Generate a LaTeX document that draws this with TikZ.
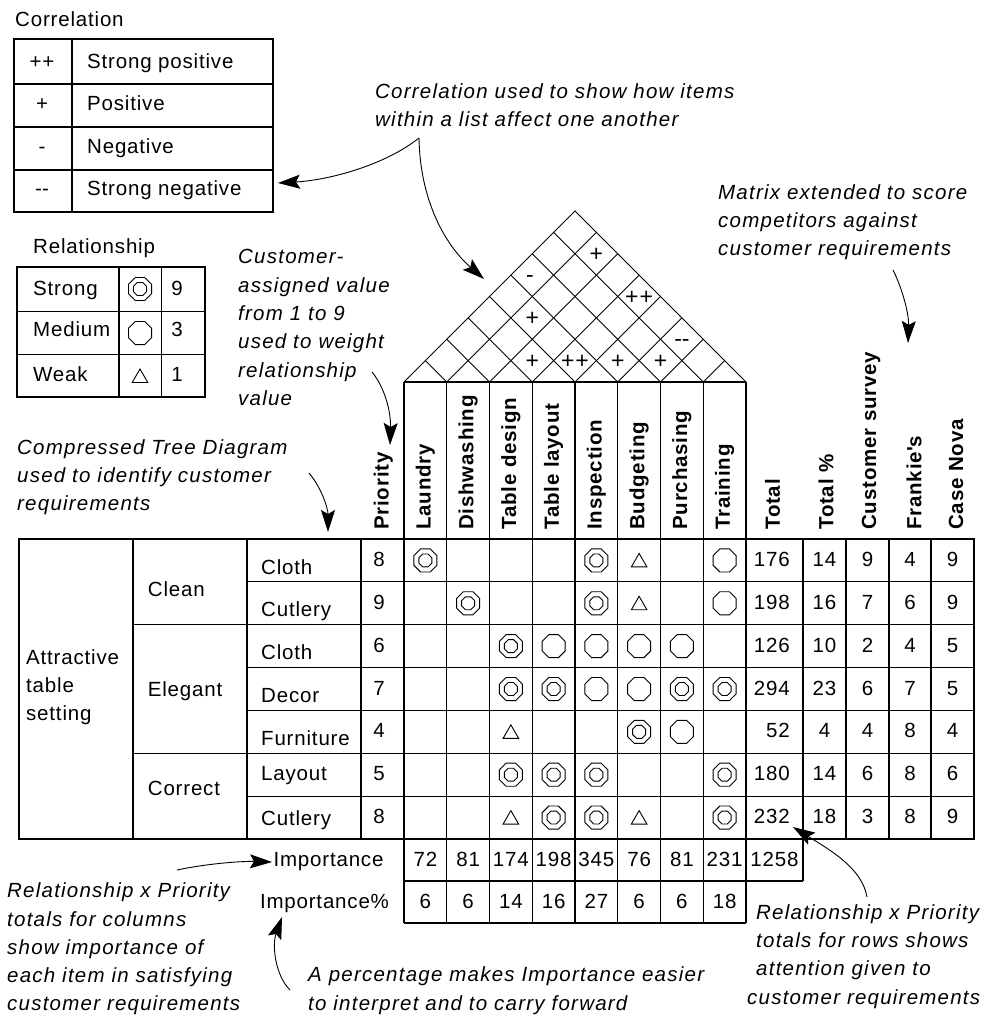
\documentclass[tikz,border=0pt]{standalone}
\usepackage{fontspec}
\setmainfont{Liberation Sans}[LetterSpace=4.0]
\usetikzlibrary{arrows.meta,shapes.geometric}

\newcommand{\qfdfont}{\fontsize{20.5}{28.3}\selectfont}
\newcommand{\notefont}{\fontsize{20.5}{28.3}\selectfont\itshape\addfontfeatures{LetterSpace=6.0}}
\newcommand{\dbldash}{\mbox{-}\mbox{-}}

\begin{document}
\begin{tikzpicture}[x=1pt,y=-1pt,
  lbl/.style={font=\qfdfont, inner sep=0pt, anchor=base west},
  num/.style={font=\qfdfont, inner sep=0pt, anchor=base},
  roofmark/.style={font=\fontsize{23}{28}\selectfont, inner sep=0pt, anchor=base},
  rnum/.style={font=\qfdfont, inner sep=0pt, anchor=base east},
  note/.style={font=\notefont, inner sep=0pt, align=left, anchor=north west},
  block/.style={font=\qfdfont, inner sep=0pt, align=left, anchor=north west},
  hdr/.style={font=\qfdfont\bfseries, inner sep=0pt, rotate=90, anchor=west},
  rule/.style={line width=1.2pt},
  roofline/.style={line width=0.9pt},
  callout/.style={line width=0.9pt, -{Stealth[length=22pt,width=14pt,inset=4pt]}},
  bigocto/.style={draw, regular polygon, regular polygon sides=8, inner sep=0pt, line width=0.9pt, minimum size=25pt},
  smallocto/.style={draw, regular polygon, regular polygon sides=8, inner sep=0pt, line width=0.9pt, minimum size=14pt},
  tri/.style={draw, regular polygon, regular polygon sides=3, inner sep=0pt, line width=0.9pt, minimum size=18pt, yshift=-2pt}
]
\fill[white] (0,0) rectangle (984,1019);
\useasboundingbox (0,0) rectangle (984,1019);

% ---------- correlation legend ----------
\node[lbl] (corrtitle) at (15,26.7) {Correlation};
\draw[rule] (14,39) rectangle (273,212);
\foreach \yy in {84,127,170} \draw[rule] (14,\yy) -- (273,\yy);
\draw[rule] (72,39) -- (72,212);
\foreach \s/\t/\b [count=\i] in {++/Strong positive/69, +/Positive/110.4, -/Negative/154, \dbldash/Strong negative/195.7} {
  \node[num] (cs\i) at (42,\b) {\s};
  \node[lbl] (ct\i) at (87,\b) {\t};
}

% ---------- relationship legend ----------
\node[lbl] (reltitle) at (33,253) {Relationship};
\draw[rule] (17,267) rectangle (205,397);
\draw[rule] (17,311.7) -- (205,311.7);
\draw[rule] (17,354.3) -- (205,354.3);
\draw[rule] (119,267) -- (119,397);
\draw[rule] (161.7,267) -- (161.7,397);
\node[lbl] (lstrong) at (33,295.3) {Strong};
\node[lbl] (lmedium) at (33,336.7) {Medium};
\node[lbl] (lweak) at (33,381.7) {Weak};
\node[bigocto] (kstrong) at (140,289) {};
\node[smallocto] (kstrongi) at (kstrong) {};
\node[bigocto] (kmedium) at (140,333) {};
\node[tri] (kweak) at (140,376) {};
\node[num] (v9) at (177,295.3) {9};
\node[num] (v3) at (177,336.7) {3};
\node[num] (v1) at (177,381.7) {1};

% ---------- roof (correlation matrix) ----------
\coordinate (rL) at (404,382);
\coordinate (rR) at (746,382);
\coordinate (rT) at (575,211);
\draw[roofline] (rL) -- (rT) -- (rR);
\foreach \k in {1,...,7} {
  \pgfmathsetmacro\xk{404+\k*42.75}
  \draw[roofline] (\xk,382) -- ({\xk+(746-\xk)/2},{382-(746-\xk)/2});
  \draw[roofline] (\xk,382) -- ({\xk-(\xk-404)/2},{382-(\xk-404)/2});
}
\draw[rule] (rL) -- (rR);
% correlation marks
\node[roofmark] (m1) at (532.25,368.6) {+};
\node[roofmark] (m2) at (575,368.6) {++};
\node[roofmark] (m3) at (617.75,368.6) {+};
\node[roofmark] (m4) at (660.5,368.6) {+};
\node[roofmark] (m5) at (681.9,346.2) {\dbldash};
\node[roofmark] (m6) at (532.25,325.9) {+};
\node[roofmark] (m7) at (639.1,304.5) {++};
\node[roofmark] (m8) at (530,282.1) {-};
\node[roofmark] (m9) at (596.4,261.7) {+};

% ---------- column headers ----------
\node[hdr] (hprio) at (383.3,530) {Priority};
\foreach \c/\t in {0/Laundry,1/Dishwashing,2/Table design,3/Table layout,4/Inspection,5/Budgeting,6/Purchasing,7/Training}
  \node[hdr] (h\c) at ({404+(\c+0.5)*42.75},530) {\t};
\node[hdr] (htot) at (772.5,530) {Total};
\node[hdr] (htotp) at (826,530) {Total \%};
\node[hdr] (hcs) at (871,530) {Customer survey};
\node[hdr] (hfr) at (914,530) {Frankie\textquotesingle s};
\node[hdr] (hcn) at (956,530) {Case Nova};

% ---------- main matrix grid ----------
\draw[rule] (19,539) rectangle (974,839);
\foreach \r in {1,3,4,6} \draw[rule] (247,{539+\r*300/7}) -- (974,{539+\r*300/7});
\foreach \r in {2,5} \draw[rule] (133,{539+\r*300/7}) -- (974,{539+\r*300/7});
\foreach \xx in {133,247,361,803,846,889,931} \draw[rule] (\xx,539) -- (\xx,839);
\foreach \k in {0,...,8} \draw[rule] ({404+\k*42.75},382) -- ({404+\k*42.75},923);
% importance rows
\draw[rule] (404,881) -- (803,881);
\draw[rule] (803,839) -- (803,881);
\draw[rule] (404,923) -- (746,923);

% ---------- requirement tree ----------
\node[block] (lv1) at (26,649) {Attractive\\table\\setting};
\node[lbl] (clean) at (147.7,596.7) {Clean};
\node[lbl] (elegant) at (147.7,696.7) {Elegant};
\node[lbl] (correct) at (147.7,795) {Correct};
\foreach \t/\b [count=\i] in {Cloth/574, Cutlery/616.7, Cloth/659.3, Decor/702.7, Furniture/745, Layout/780, Cutlery/825}
  \node[lbl] (req\i) at (261,\b) {\t};

% ---------- priorities, totals and competitor scores ----------
\foreach \r/\p/\tt/\tp/\cs/\fr/\cn in {0/8/176/14/9/4/9, 1/9/198/16/7/6/9, 2/6/126/10/2/4/5, 3/7/294/23/6/7/5, 4/4/52/4/4/8/4, 5/5/180/14/6/8/6, 6/8/232/18/3/8/9} {
  \pgfmathsetmacro\bl{539+(\r+0.5)*300/7+6}
  \node[num] (pr\r) at (379,\bl) {\p};
  \node[rnum] (tt\r) at (790,\bl) {\tt};
  \node[num] (tp\r) at (824.5,\bl) {\tp};
  \node[num] (cs\r) at (867.5,\bl) {\cs};
  \node[num] (fr\r) at (910,\bl) {\fr};
  \node[num] (cn\r) at (952.5,\bl) {\cn};
}

% ---------- relationship symbols ----------
\foreach \r/\c in {0/0,0/4,1/1,1/4,2/2,3/2,3/3,3/6,3/7,4/5,5/2,5/3,5/4,5/7,6/3,6/4,6/7} {
  \node[bigocto] (s\r\c) at ({404+(\c+0.5)*42.75},{539+(\r+0.5)*300/7}) {};
  \node[smallocto] (si\r\c) at (s\r\c) {};
}
\foreach \r/\c in {0/7,1/7,2/3,2/4,2/5,2/6,3/4,3/5,4/6}
  \node[bigocto] (m\r\c) at ({404+(\c+0.5)*42.75},{539+(\r+0.5)*300/7}) {};
\foreach \r/\c in {0/5,1/5,4/2,6/2,6/5}
  \node[tri] (w\r\c) at ({404+(\c+0.5)*42.75},{539+(\r+0.5)*300/7}) {};

% ---------- importance ----------
\node[num] (imp) at (328.5,866.7) {Importance};
\node[num] (impp) at (324.5,908.3) {Importance\%};
\foreach \c/\v in {0/72,1/81,2/174,3/198,4/345,5/76,6/81,7/231}
  \node[num] (iv\c) at ({404+(\c+0.5)*42.75},866.7) {\v};
\node[num] (ivtot) at (774.5,866.7) {1258};
\foreach \c/\v in {0/6,1/6,2/14,3/16,4/27,5/6,6/6,7/18}
  \node[num] (ip\c) at ({404+(\c+0.5)*42.75},908.3) {\v};

% ---------- annotations ----------
\node[note] (n1) at (375,83.3) {Correlation used to show how items\\within a list affect one another};
\node[note] (n2) at (718,184.3) {Matrix extended to score\\competitors against\\customer requirements};
\node[note] (n3) at (238,249.3) {Customer-\\assigned value\\from 1 to 9\\used to weight\\relationship\\value};
\node[note] (n4) at (17,439.3) {Compressed Tree Diagram\\used to identify customer\\requirements};
\node[note] (n5) at (7,882.7) {Relationship x Priority\\totals for columns\\show importance of\\each item in satisfying\\customer requirements};
\node[note] (n6) at (308,966.7) {A percentage makes Importance easier\\to interpret and to carry forward};
\node[note] (n7) at (756,904.3) {Relationship x Priority\\totals for rows shows\\attention given to\\\hspace*{-9pt}customer requirements};

% ---------- callout arrows ----------
\coordinate (a1s) at (419,138);
\coordinate (a1l) at (278,183);
\coordinate (a1r) at (484,279);
\draw[callout] (a1s) .. controls (385,165) and (330,180) .. (a1l);
\draw[callout] (a1s) .. controls (420,200) and (445,245) .. (a1r);
\coordinate (a2s) at (893,270);
\coordinate (a2e) at (908,343);
\draw[callout] (a2s) .. controls (903,290) and (909,315) .. (a2e);
\coordinate (a3s) at (372,372);
\coordinate (a3e) at (390,445);
\draw[callout] (a3s) .. controls (385,388) and (391,412) .. (a3e);
\coordinate (a4s) at (309,473);
\coordinate (a4e) at (328,532);
\draw[callout] (a4s) .. controls (321,487) and (328,508) .. (a4e);
\coordinate (a5s) at (177,870);
\coordinate (a5e) at (272,862);
\draw[callout] (a5s) .. controls (205,864) and (240,861) .. (a5e);
\coordinate (a6s) at (290,990);
\coordinate (a6e) at (282,917);
\draw[callout] (a6s) .. controls (275,975) and (272,945) .. (a6e);
\coordinate (a7s) at (867,897);
\coordinate (a7e) at (793,827);
\draw[callout] (a7s) .. controls (862,868) and (830,850) .. (a7e);
\end{tikzpicture}
\end{document}
